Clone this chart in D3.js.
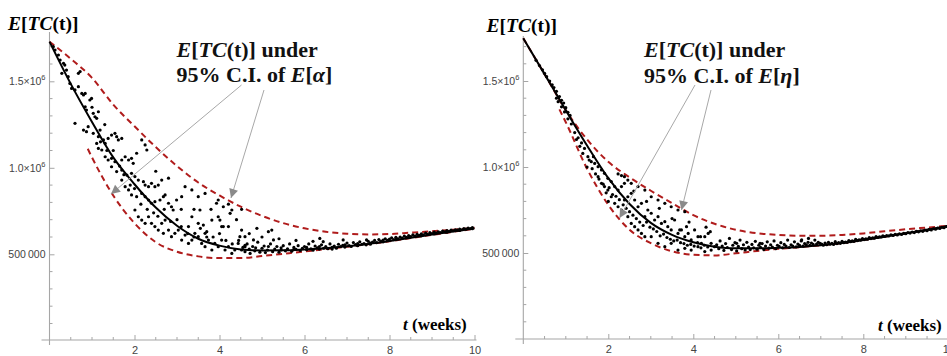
<!DOCTYPE html>
<html><head><meta charset="utf-8">
<script src="https://cdn.jsdelivr.net/npm/d3@7"></script>
<style>body{margin:0;background:#fff}svg{display:block}</style>
</head><body><svg id="c" width="947" height="356"></svg>
<script>
// ---- data (values in thousands) ----
const tGrid = [0,0.5,1,1.5,2,2.5,3,3.5,4,4.5,5,5.5,6,6.5,7,7.5,8,8.5,9,9.5,10];
const meanL  = [1729,1485,1265,1060,905,770,665,590,550,528,522,523,528,535,546,560,577,596,614,632,650];
const upperL = [1729,1630,1520,1365,1240,1120,1010,915,840,775,722,680,650,630,619,615,617,625,633,642,653];
const lowerTL = [0.9,1,1.5,2,2.5,3,3.5,4,4.5,5,5.5,6,6.5,7,7.5,8,8.5,9,9.5,10];
const lowerL = [1110,1060,840,680,570,515,488,478,478,490,503,516,530,544,558,575,594,612,630,648];

const meanR  = [1748,1540,1330,1125,935,785,675,605,562,537,527,527,530,535,545,558,575,595,615,635,657];
const upperR = [1748,1540,1330,1160,1030,940,862,790,720,670,635,615,605,600,600,605,614,626,638,648,658];
const lowerTR = [0.85,1,1.5,2,2.5,3,3.5,4,4.5,5,5.5,6,6.5,7,7.5,8,8.5,9,9.5,10];
const lowerR = [1335,1260,990,780,635,557,510,490,486,498,512,524,534,545,558,575,595,615,635,655];

const dotsL = [
[0.09,1700],[0.13,1681],[0.21,1652],[0.25,1623],[0.33,1604],[0.36,1594],[0.40,1565],[0.29,1546],[0.44,1527],[0.48,1488],
[0.52,1459],[0.60,1450],[0.68,1469],[0.68,1546],[0.72,1556],[0.76,1430],[0.80,1421],[0.84,1430],[0.84,1353],[0.87,1334],
[0.95,1392],[0.99,1401],[1.03,1315],[1.07,1295],[1.11,1286],[1.15,1324],[0.60,1257],[0.80,1218],[0.87,1209],[0.91,1238],
[1.03,1199],[1.15,1180],[1.19,1218],[1.27,1161],[1.31,1141],[1.38,1170],[1.46,1189],[1.54,1199],[1.58,1180],[1.62,1161],
[1.70,1170],[1.11,1141],[1.15,1112],[1.23,1103],[1.31,1064],[1.38,1045],[1.46,1055],[1.54,1035],[1.70,1045],[1.78,1064],
[1.86,1045],[1.93,1055],[1.97,1026],[2.05,1084],[2.17,1161],[2.25,1132],[2.29,1103],[1.46,1006],[1.58,978],[1.70,987],
[1.82,958],[1.93,968],[2.01,949],[2.09,929],[2.21,920],[2.25,900],[2.33,891],[2.40,910],[2.48,891],[2.56,900],
[2.64,929],[1.70,929],[1.78,891],[1.86,872],[1.93,843],[2.05,833],[2.17,852],[2.25,833],[2.33,814],[2.40,795],
[2.48,804],[2.60,814],[2.68,833],[2.72,843],[2.80,795],[2.87,775],[2.91,756],[2.99,814],[3.11,833],[3.19,891],
[3.35,872],[3.50,833],[3.66,852],[3.97,814],[4.21,790],[4.29,756],[4.52,760],
[2.01,756],[2.09,717],[2.17,698],[2.25,679],[2.33,717],[2.40,679],[2.48,660],[2.56,640],[2.64,679],[2.68,621],
[2.72,698],[2.80,640],[2.87,602],[2.95,621],[3.03,640],[3.11,582],[3.19,611],[3.27,563],[3.35,582],[3.42,621],
[3.50,602],[3.58,563],[3.66,544],[3.74,582],[3.82,525],[3.89,563],[3.97,544],[4.05,582],[4.13,525],[4.21,544],
[4.29,505],[4.36,525],[4.44,563],[4.52,525],[4.60,544],[3.66,621],[3.27,660],[3.35,717],[3.50,679],[3.82,698],
[3.97,717],[4.05,660],[4.21,660],[4.52,640],[4.60,602],
[3.93,795],[4.09,775],[4.25,737],[4.01,698],[4.09,660],[4.88,650],[5.15,631],[5.23,640],[3.54,756],[3.62,669],
[3.70,631],[4.48,602],[4.80,583],[5.27,583],[6.36,592],[6.44,573],[6.91,583],[7.46,583],
[1.20,1150],[1.35,1100],[1.50,1100],[1.65,1010],[1.75,960],[1.90,900],[2.00,880],[2.15,790],[2.30,760],[2.45,740],
[2.55,720],[2.70,760],[2.85,690],[3.00,700],[3.10,660],[3.25,620],[3.40,600],[3.55,650],[3.70,600],[3.85,600],
[4.00,620],[4.15,580],[4.30,560],[4.45,580],[2.50,980],[2.80,940],[3.10,760],[3.40,760],[3.80,760],[4.40,700],
[4.70,620],[5.00,600],[5.40,590],[5.80,580],[6.20,575],[1.30,1250],[1.00,1350],
[4.55,540],[4.60,515],[4.65,560],[4.70,530],[4.72,505],[4.78,545],[4.83,520],[4.90,570],[4.95,512],[5.00,535],
[5.05,548],[5.08,510],[5.13,525],[5.20,560],[5.25,515],[5.30,530],[5.35,545],[5.40,512],[5.45,538],[5.50,550],
[5.55,520],[5.60,532],[5.65,560],[5.70,518],[5.75,540],[5.80,528],[5.85,550],[5.90,522],[5.95,535],[6.00,545],
[6.05,527],[6.10,560],[6.15,532],[6.20,524],[6.25,548],[6.30,538],[6.35,530],[6.40,555],[6.45,535],[6.50,545],
[6.55,532],[6.60,560],[6.65,540],[6.70,548],[6.75,535],[6.80,558],[6.85,545],[6.90,552],[6.95,542],[7.00,565],
[7.05,550],[7.10,545],[7.15,568],[7.20,556],[7.25,550],[7.30,572],[7.35,558],[7.40,562],[7.45,555],[7.50,575],
[7.55,565],[7.60,570],[7.65,580],[7.70,568],[7.75,585],[7.80,575],[7.85,582],[7.90,590],[7.95,580],[8.00,588],
[8.05,595],[8.10,585],[8.15,598],[8.20,590],[8.25,600],[8.30,594],[8.35,605],[8.40,598],[8.45,608],[8.50,602],
[8.55,612],[8.60,605],[8.65,615],[8.70,610],[8.75,618],[8.80,612],[8.85,622],[8.90,616],[8.95,625],[9.00,620],
[9.05,628],[9.10,622],[9.15,630],[9.20,626],[9.25,634],[9.30,630],[9.35,637],[9.40,633],[9.45,640],[9.50,636],
[9.55,642],[9.60,640],[9.65,646],[9.70,642],[9.75,648],[9.80,646],[9.85,651],[9.90,648],[9.95,654],
[4.60,552],[4.85,538],[5.15,545],[5.45,525],[5.75,528],[6.05,540],[6.35,545],[6.65,530],[6.95,555],[7.25,562],
[7.55,558],[7.85,572],[8.15,586],[8.45,597],[8.75,607],[9.05,618],[9.35,628],[9.65,638],[9.95,648]
];

const dotsR = [
[0.30,1620],[0.38,1590],[0.45,1565],[0.50,1545],[0.55,1525],[0.62,1500],[0.68,1478],[0.72,1462],[0.78,1440],[0.85,1410],
[0.90,1388],[0.95,1372],[1.00,1345],[1.05,1318],[1.10,1300],[0.78,1400],[0.82,1380],[0.90,1350],[0.97,1320],[1.05,1280],
[1.13,1250],[1.21,1200],[1.29,1170],[1.37,1140],[1.44,1108],[1.25,1160],[1.33,1120],[1.40,1079],[1.52,1060],[1.60,1031],
[1.68,1021],[1.76,1002],[1.84,983],[1.91,963],[1.99,934],[2.07,915],[2.15,886],[2.23,866],[2.31,886],[2.38,905],
[2.46,924],[1.76,944],[1.84,905],[1.91,886],[1.99,866],[2.07,827],[2.15,789],[2.23,769],[2.31,750],[2.38,808],
[2.46,827],[2.54,847],[2.62,808],[2.70,769],[2.78,789],[2.86,711],[2.93,750],[3.01,731],[3.09,692],[3.17,711],
[3.25,672],[3.33,682],[3.40,653],[3.48,634],[3.56,692],[3.64,614],[3.72,634],[3.80,595],[3.88,614],[3.95,576],
[4.03,634],[4.11,595],[4.19,556],[4.27,595],[4.35,614],[4.42,556],[4.50,537],[2.46,711],[2.54,672],[2.62,653],
[2.70,634],[2.78,614],[2.86,595],[3.01,595],[3.17,556],[3.33,537],[3.48,556],[3.64,517],[3.80,527],[3.95,517],
[4.11,537],[4.27,508],[4.42,517],[2.23,960],[2.31,950],[2.38,944],[2.54,905],[2.70,886],[2.86,866],[3.01,827],
[3.17,808],[3.33,789],[3.48,769],[3.64,750],[3.80,740],
[3.68,634],[3.84,653],[4.17,595],[4.40,624],[5.02,556],[5.57,556],[6.55,576],[6.71,585],
[1.55,1040],[1.62,990],[1.70,960],[1.78,930],[1.88,900],[1.95,850],[2.02,880],[2.10,840],[2.18,830],[2.26,810],
[2.35,780],[2.42,760],[2.50,740],[2.58,720],[2.66,700],[2.74,680],[2.82,660],[2.90,680],[2.98,650],[3.06,640],
[3.14,625],[3.22,600],[3.30,610],[3.38,590],[3.46,580],[3.54,570],[3.62,575],[3.70,560],[3.78,555],[3.86,545],
[3.94,550],[4.02,540],[4.10,560],[4.18,530],[4.26,545],[4.34,535],[2.60,860],[2.90,800],[3.20,760],[3.50,700],
[3.90,680],[4.30,650],[1.50,1000],[1.65,1060],[2.00,800],
[4.55,548],[4.60,525],[4.63,570],[4.68,540],[4.72,515],[4.76,555],[4.80,532],[4.85,585],[4.90,520],[4.93,545],
[4.98,560],[5.02,512],[5.06,538],[5.10,575],[5.14,525],[5.18,548],[5.22,518],[5.26,562],[5.30,535],[5.34,520],
[5.38,550],[5.42,530],[5.46,568],[5.50,522],[5.54,545],[5.58,533],[5.62,555],[5.66,520],[5.70,540],[5.74,565],
[5.78,528],[5.82,548],[5.86,535],[5.90,570],[5.94,525],[5.98,545],[6.02,538],[6.06,560],[6.10,530],[6.14,550],
[6.18,540],[6.22,575],[6.26,532],[6.30,548],[6.34,540],[6.38,565],[6.42,536],[6.46,552],[6.50,545],[6.54,570],
[6.58,540],[6.62,555],[6.66,548],[6.70,562],[6.74,545],[6.78,558],[6.82,550],[6.86,575],[6.90,552],[6.94,562],
[6.98,556],
[7.02,552],[7.06,545],[7.10,558],[7.14,548],[7.18,562],[7.22,551],[7.26,556],[7.30,550],[7.34,566],[7.38,555],
[7.42,560],[7.46,556],[7.50,568],[7.54,560],[7.58,564],[7.62,562],[7.66,572],[7.70,566],[7.74,570],[7.78,568],
[7.82,580],[7.86,572],[7.90,577],[7.94,575],[7.98,584],[8.02,578],[8.06,582],[8.10,580],[8.14,590],[8.18,584],
[8.22,588],[8.26,586],[8.30,595],[8.34,590],[8.38,594],[8.42,593],[8.46,600],[8.50,596],[8.55,601],[8.60,599],
[8.65,606],[8.70,602],[8.75,608],[8.80,605],[8.85,612],[8.90,608],[8.95,614],[9.00,612],[9.05,619],[9.10,616],
[9.15,622],[9.20,619],[9.25,626],[9.30,623],[9.35,629],[9.40,626],[9.45,633],[9.50,630],[9.55,637],[9.60,634],
[9.65,641],[9.70,638],[9.75,645],[9.80,643],[9.85,649],[9.90,647],[9.95,654]
];

const xTicks = [2,4,6,8,10];
const yTicks = [500,1000,1500];
const yTickLabels = [["500\u2009000",""],["1.0\u00d710","6"],["1.5\u00d710","6"]];
const xTitle = "(weeks)";
const greekL = "\u03b1", greekR = "\u03b7";

// ---- drawing ----
const svg = d3.select("#c");
const defs = svg.append("defs");
defs.append("marker").attr("id","ah").attr("viewBox","0 0 10 10").attr("refX",10).attr("refY",5)
  .attr("markerWidth",11).attr("markerHeight",9).attr("markerUnits","userSpaceOnUse").attr("orient","auto")
  .append("path").attr("d","M0,0 L10,5 L0,10 Z").attr("fill","#8a8a8a");

const SERIF = "'Liberation Serif','Times New Roman',serif";
const SANS = "'Liberation Sans',Arial,sans-serif";

function panel(cfg) {
  const x = d3.scaleLinear().domain([0,10]).range([cfg.x0, cfg.x0 + 425]);
  const y = d3.scaleLinear().domain([0,1780]).range([cfg.y0, cfg.y0 - cfg.k*1780]);
  const g = svg.append("g");
  const axisColor = "#a6a6a6";

  g.append("line").attr("x1", cfg.x0 - 8).attr("x2", x(10)+2).attr("y1", cfg.ax).attr("y2", cfg.ax)
    .attr("stroke", axisColor).attr("stroke-width",1.1);
  g.append("line").attr("x1", cfg.x0).attr("x2", cfg.x0).attr("y1", cfg.yTopAxis).attr("y2", cfg.ax+5)
    .attr("stroke", axisColor).attr("stroke-width",1.1);

  const xMinor = x.ticks(20).filter(v => v > 0 && !xTicks.includes(v));
  g.selectAll(".xm").data(xMinor).enter().append("line")
    .attr("x1", d=>x(d)).attr("x2", d=>x(d)).attr("y1", cfg.ax).attr("y2", cfg.ax-3)
    .attr("stroke", axisColor);
  const xa = g.append("g").attr("transform", `translate(0,${cfg.ax})`)
    .call(d3.axisBottom(x).tickValues(xTicks).tickSize(-5).tickPadding(6).tickFormat(d3.format("d")));
  xa.select(".domain").remove();
  xa.selectAll("line").attr("stroke", axisColor);
  xa.selectAll("text").attr("font-family", SANS).attr("font-size", 11).attr("fill", "#444");

  const yMinor = y.ticks(18).filter(v => v > 0 && !yTicks.includes(v) && y(v) > cfg.yTopAxis);
  g.selectAll(".ym").data(yMinor).enter().append("line")
    .attr("x1", cfg.x0).attr("x2", cfg.x0+3).attr("y1", d=>y(d)).attr("y2", d=>y(d))
    .attr("stroke", axisColor);
  const ya = g.append("g").attr("transform", `translate(${cfg.x0},0)`)
    .call(d3.axisLeft(y).tickValues(yTicks).tickSize(-5).tickPadding(4).tickFormat(""));
  ya.select(".domain").remove();
  ya.selectAll("line").attr("stroke", axisColor);
  ya.selectAll(".tick text").each(function(d, i) {
    const t = d3.select(this).attr("font-family", SANS).attr("font-size", 10.5).attr("fill", "#444").text(null);
    t.append("tspan").text(yTickLabels[i][0]);
    if (yTickLabels[i][1]) t.append("tspan").attr("font-size", 7.5).attr("dy", -5).text(yTickLabels[i][1]);
  });

  const line = d3.line().x(d=>x(d[0])).y(d=>y(d[1])).curve(d3.curveMonotoneX);
  const dashColor = "#b01c1c";
  g.append("path").datum(cfg.tU.map((t,i)=>[t,cfg.upper[i]])).attr("d", line)
    .attr("fill","none").attr("stroke", dashColor).attr("stroke-width",2).attr("stroke-dasharray","6,4");
  g.append("path").datum(cfg.tLo.map((t,i)=>[t,cfg.lower[i]])).attr("d", line)
    .attr("fill","none").attr("stroke", dashColor).attr("stroke-width",2).attr("stroke-dasharray","6,4");
  g.selectAll(".dot").data(cfg.dots).enter().append("circle")
    .attr("cx", d=>x(d[0])).attr("cy", d=>y(d[1])).attr("r", 1.6).attr("fill", "#000");
  g.append("path").datum(cfg.tU.map((t,i)=>[t,cfg.mean[i]])).attr("d", line)
    .attr("fill","none").attr("stroke","#000").attr("stroke-width",2);

  const yt = g.append("text").attr("x", cfg.ytX).attr("y", cfg.ytY).attr("font-family", SERIF)
    .attr("font-size", 19.5).attr("font-weight","bold");
  yt.append("tspan").attr("font-style","italic").text("E");
  yt.append("tspan").text("[");
  yt.append("tspan").attr("font-style","italic").text("TC");
  yt.append("tspan").text("(t)]");

  const xt = g.append("text").attr("x", cfg.xtX).attr("y", cfg.xtY).attr("font-family", SERIF)
    .attr("font-size", 17).attr("font-weight","bold");
  xt.append("tspan").attr("font-style","italic").text("t");
  xt.append("tspan").text(" " + xTitle);

  const a1 = g.append("text").attr("x", cfg.anX).attr("y", cfg.anY1).attr("font-family", SERIF)
    .attr("font-size", 22).attr("font-weight","bold").attr("fill","#111");
  a1.append("tspan").attr("font-style","italic").text("E");
  a1.append("tspan").text("[");
  a1.append("tspan").attr("font-style","italic").text("TC");
  a1.append("tspan").text("(t)] under");
  const a2 = g.append("text").attr("x", cfg.anX).attr("y", cfg.anY2).attr("font-family", SERIF)
    .attr("font-size", 22).attr("font-weight","bold").attr("fill","#111");
  a2.append("tspan").text("95% C.I. of ");
  a2.append("tspan").attr("font-style","italic").text("E");
  a2.append("tspan").text("[");
  a2.append("tspan").attr("font-style","italic").text(cfg.greek);
  a2.append("tspan").text("]");

  cfg.arrows.forEach(a => {
    g.append("line").attr("x1",a[0]).attr("y1",a[1]).attr("x2",a[2]).attr("y2",a[3])
      .attr("stroke","#a8a8a8").attr("stroke-width",1).attr("marker-end","url(#ah)");
  });
}

panel({x0:49.5, y0:340.8, k:0.173, ax:340, yTopAxis:32, tU:tGrid, mean:meanL, upper:upperL, tLo:lowerTL, lower:lowerL,
  dots:dotsL, ytX:8, ytY:30, xtX:403, xtY:330, anX:176.5, anY1:56.5, anY2:81.5, greek:greekL,
  arrows:[[241.5,85,111,194],[264,90,231,198]]});
panel({x0:523.3, y0:339, k:0.172, ax:339, yTopAxis:36, tU:tGrid, mean:meanR, upper:upperR, tLo:lowerTR, lower:lowerR,
  dots:dotsR, ytX:486.5, ytY:32, xtX:878, xtY:330.5, anX:644, anY1:56.5, anY2:82.5, greek:greekR,
  arrows:[[695,85,619.5,218],[711,90,681.5,210]]});
</script></body></html>
